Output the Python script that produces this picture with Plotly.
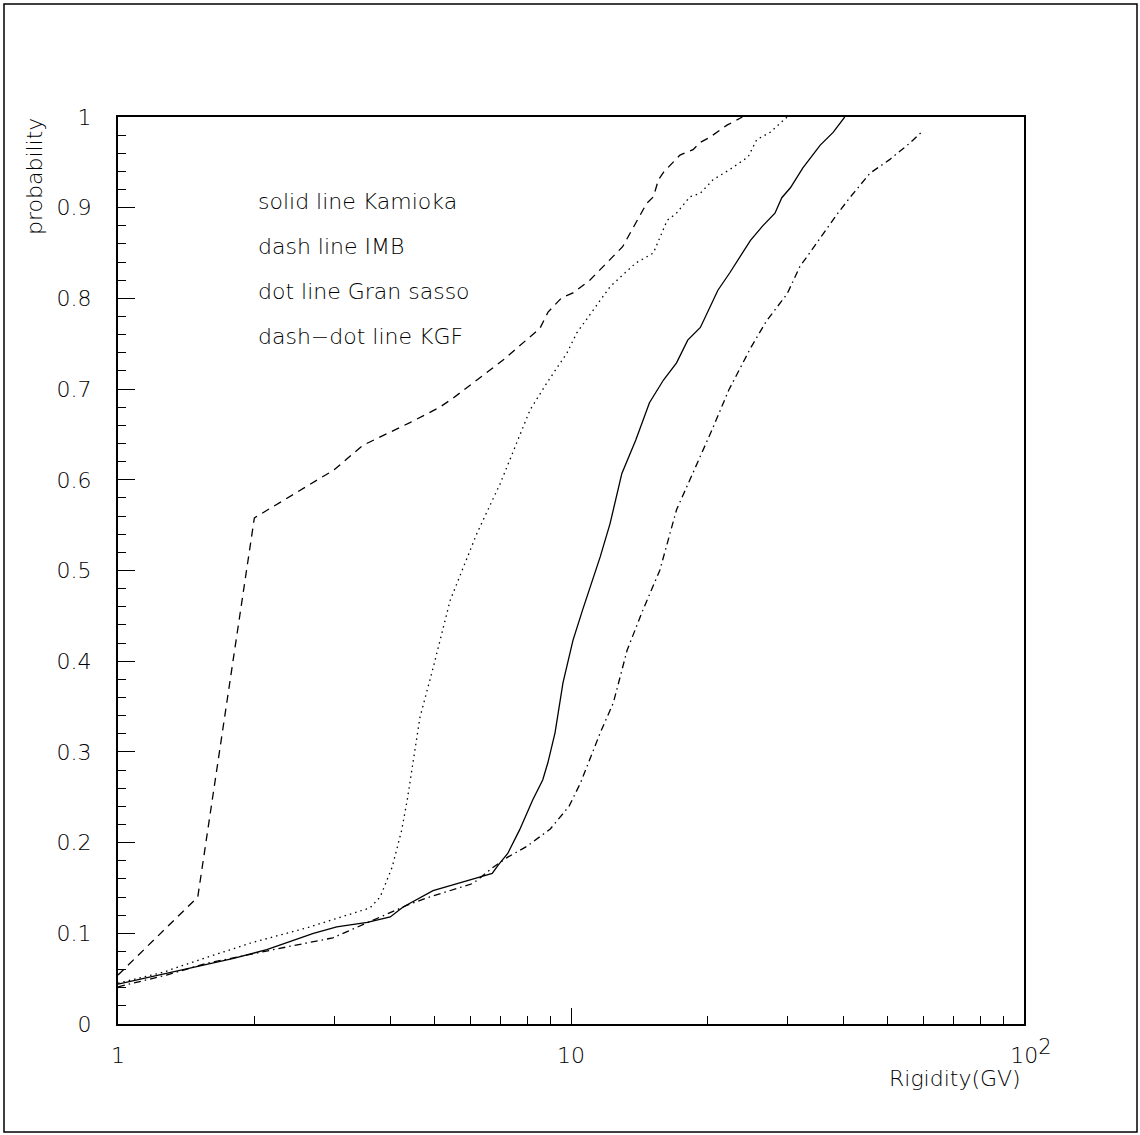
import plotly.graph_objects as go

# ---- data ----
kamioka_R = [1.0, 1.39, 1.79, 2.13, 2.70, 3.04, 3.55, 3.99, 4.26, 4.96, 5.49, 6.2, 6.7, 6.9, 7.25,
             7.7, 8.23, 8.66, 8.89, 9.22, 9.6, 10.1, 10.6, 11.6, 12.2, 12.95, 13.9, 14.9, 16.0,
             17.1, 18.1, 19.3, 21.1, 22.4, 24.9, 26.5, 28.2, 29.2, 30.5, 32.5, 35.5, 37.9, 40.2]
kamioka_p = [0.044, 0.060, 0.072, 0.082, 0.100, 0.107, 0.112, 0.118, 0.129, 0.147, 0.153, 0.161,
             0.166, 0.175, 0.188, 0.214, 0.247, 0.269, 0.288, 0.321, 0.376, 0.423, 0.456, 0.515,
             0.552, 0.607, 0.644, 0.685, 0.710, 0.729, 0.754, 0.768, 0.809, 0.828, 0.864, 0.880,
             0.894, 0.911, 0.922, 0.944, 0.969, 0.983, 1.0]

imb_R = [1.0, 1.5, 2.0, 3.0, 3.47, 4.41, 5.13, 5.49, 7.08, 8.54, 8.9, 9.55, 10.1, 11.0, 13.0,
         13.5, 14.7, 15.2, 15.6, 16.0, 17.4, 18.6, 19.3, 20.3, 22.1, 23.9]
imb_p = [0.054, 0.14, 0.558, 0.611, 0.638, 0.663, 0.68, 0.690, 0.732, 0.767, 0.785, 0.801, 0.806,
         0.820, 0.857, 0.872, 0.905, 0.912, 0.931, 0.939, 0.958, 0.964, 0.972, 0.978, 0.991, 1.0]

gransasso_R = [1.0, 1.257, 1.517, 1.985, 2.61, 3.09, 3.60, 3.79, 4.03, 4.23, 4.35, 4.64, 4.97,
               5.41, 6.2, 6.98, 8.12, 8.85, 9.8, 10.3, 12.2, 13.9, 15.2, 16.3, 17.1, 18.3, 19.3,
               20.6, 22.4, 24.6, 25.7, 27.5, 30.0]
gransasso_p = [0.045, 0.057, 0.071, 0.090, 0.106, 0.118, 0.128, 0.140, 0.173, 0.214, 0.247, 0.338,
               0.394, 0.467, 0.541, 0.596, 0.677, 0.707, 0.74, 0.762, 0.813, 0.839, 0.850, 0.886,
               0.894, 0.912, 0.916, 0.931, 0.942, 0.956, 0.975, 0.983, 1.0]

kgf_R = [1.0, 1.28, 1.57, 2.0, 2.36, 2.98, 3.55, 4.35, 4.8, 6.08, 6.7, 7.25, 8.0, 9.0, 9.9, 10.5,
         11.6, 12.4, 13.3, 14.4, 15.7, 17.1, 18.3, 20.6, 22.3, 24.9, 27.0, 30.0, 32.0, 34.9, 38.7,
         41.4, 45.7, 50.5, 55.9, 59.3]
kgf_p = [0.041, 0.054, 0.067, 0.078, 0.085, 0.095, 0.112, 0.131, 0.139, 0.155, 0.172, 0.184,
         0.196, 0.215, 0.240, 0.266, 0.321, 0.354, 0.412, 0.456, 0.50, 0.567, 0.60, 0.658, 0.699,
         0.745, 0.775, 0.805, 0.835, 0.862, 0.893, 0.912, 0.938, 0.953, 0.971, 0.983]

legend_lines = ["solid line Kamioka", "dash line IMB", "dot line Gran sasso", "dash\u2212dot line KGF"]
x_tickvals = [1, 10, 100]
x_ticktext = ["1", "10", "\u00a0\u00a010<sup><span style=\"font-size:21px\">2</span></sup>"]
x_minor = [2, 3, 4, 5, 6, 7, 8, 9, 20, 30, 40, 50, 60, 70, 80, 90]
x_title = "Rigidity(GV)"
y_title = "probability"

FONT = "DejaVu Sans"
FW = 200
W, H = 1140, 1135
L, R_, T, B = 118, 116, 117, 111
pw, ph = W - L - R_, H - T - B


def px(xp):
    return (xp - L) / pw


def py(yp):
    return (H - B - yp) / ph


fig = go.Figure()
series = [
    (kamioka_R, kamioka_p, "solid"),
    (imb_R, imb_p, "8px,6px"),
    (gransasso_R, gransasso_p, "1.5px,4px"),
    (kgf_R, kgf_p, "7px,4px,1.5px,4px"),
]
for xs, ys, dash in series:
    fig.add_trace(go.Scatter(x=xs, y=ys, mode="lines",
                             line=dict(color="black", width=1.3, dash=dash),
                             showlegend=False, hoverinfo="skip"))

tfont = dict(family=FONT, size=22, color="black", weight=FW)

fig.update_layout(
    width=W, height=H,
    margin=dict(l=L, r=R_, t=T, b=B),
    paper_bgcolor="white", plot_bgcolor="white",
    font=tfont,
    xaxis=dict(type="log", range=[0, 2], showgrid=False, zeroline=False,
               showline=True, linecolor="black", linewidth=2, mirror=True,
               ticks="inside", ticklen=16, tickwidth=1.3, tickcolor="black",
               tickmode="array", tickvals=x_tickvals, ticktext=x_ticktext,
               ticklabelstandoff=11, tickfont=tfont,
               minor=dict(tickmode="array", tickvals=x_minor, ticks="inside",
                          ticklen=8, tickwidth=1.3, tickcolor="black", showgrid=False)),
    yaxis=dict(range=[0, 1], showgrid=False, zeroline=False,
               showline=True, linecolor="black", linewidth=2, mirror=True,
               ticks="inside", ticklen=17, tickwidth=1.3, tickcolor="black",
               tickmode="linear", tick0=0, dtick=0.1, ticklabelstandoff=20, tickfont=tfont,
               minor=dict(ticks="inside", dtick=0.02, ticklen=8, tickwidth=1.3,
                          tickcolor="black", showgrid=False)),
)

# legend text lines
legend_y = [201, 246, 291, 336]
for txt, yp in zip(legend_lines, legend_y):
    fig.add_annotation(x=px(256), y=py(yp), xref="paper", yref="paper", text=txt,
                       showarrow=False, xanchor="left", yanchor="middle", font=tfont)

# axis titles
fig.add_annotation(x=px(1023), y=py(1078), xref="paper", yref="paper", text=x_title,
                   showarrow=False, xanchor="right", yanchor="middle", font=tfont)
fig.add_annotation(x=px(35), y=py(177), xref="paper", yref="paper", text=y_title,
                   showarrow=False, xanchor="center", yanchor="middle", textangle=-90,
                   font=tfont)

# outer frame
fig.add_shape(type="rect", xref="paper", yref="paper",
              x0=px(4), x1=px(1137), y0=py(1132), y1=py(4),
              line=dict(color="black", width=1.5), fillcolor="rgba(0,0,0,0)")

fig.write_html("out.html")
